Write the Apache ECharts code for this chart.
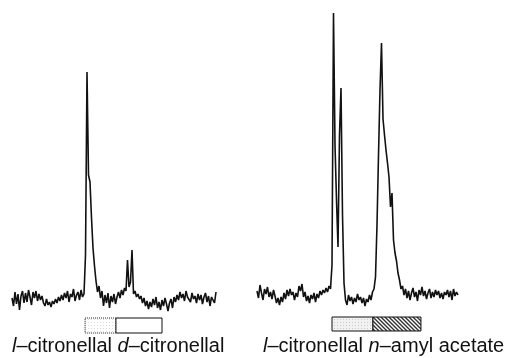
<!DOCTYPE html>
<html>
<head>
<meta charset="utf-8">
<script src="https://cdn.jsdelivr.net/npm/echarts@6/dist/echarts.min.js"></script>
<style>
html, body { margin: 0; padding: 0; background: #fff; }
#chart { width: 513px; height: 358px; }
</style>
</head>
<body>
<div id="chart"></div>
<script>
// antennal responses, one sample every ~1.5 px of the original trace
var leftTrace = [
    2, -6, 8, -4, 6, -10, 4, 9, -3, 7, -2, 10, 3, -5, 8, 2, 9, -1, 6, 0,
    4, -3, -6, 1, -5, -2, -7, -1, -4, 1, -3, 3, -1, 5, 0, 7, 2, 9, -2, 6,
    3, 11, -1, 5, 8, 0, 10, 3, 6, 45, 228, 125, 118, 82, 52, 34, 19, 8, 14, 2,
    9, -6, 5, -3, 7, -8, 4, -2, 6, -4, 3, 8, 2, 10, 5, 12, 9, 40, 13, 18,
    50, 6, 9, 3, 6, 1, 4, -3, 2, -6, -1, -9, -2, -7, 1, -5, 3, -8, -2, -10,
    0, -6, 2, -4, -11, -3, 1, -8, 3, -2, 5, 0, 8, 2, 6, -1, 9, 3, 5, -2,
    7, 1, 4, -3, 6, 0, 5, -4, 3, 7, -2, 4, -6, 3, 1, -3, 8
];
var rightTrace = [
    4, -3, 10, 2, -5, 6, 1, 8, -2, 3, -4, 5, -1, -8, -3, -10, -2, -7, 2, -4,
    5, -1, 6, 0, 3, -5, 2, -2, 9, 4, 11, -2, 3, -6, -1, -8, 0, -4, 2, -7,
    1, -3, 4, 0, 5, 2, 7, 3, 9, 6, 30, 282, 150, 95, 48, 160, 207, 80, 12, -5,
    -10, 0, -6, -2, -9, -3, -7, 1, -5, -2, -8, -3, -11, -4, -7, 0, -5, 3, 6, 18,
    70, 140, 205, 252, 176, 160, 145, 132, 118, 88, 102, 55, 42, 34, 22, 15, 6, 9, 0, 6,
    -3, 4, -5, 2, 7, -2, 3, -6, 5, 0, 8, -1, 4, -4, 2, 6, -3, 3, -2, 5,
    0, 4, -3, 2, -4, 3, 0, 5, -2, 4, -5, 6, -1, 3, 0
];

// stimulus windows (sample units): name, start, end
var leftStimuli = [['l-citronellal', 48.7, 69.3], ['d-citronellal', 69.3, 100]];
var rightStimuli = [['l-citronellal', 50, 77.3], ['n-amyl acetate', 77.3, 109.3]];

// captions: italic prefix, rest
var leftCaption = [['l', 'citronellal'], ['d', 'citronellal']];
var rightCaption = [['l', 'citronellal'], ['n', 'amyl acetate']];

function stipple(bg, dot) {
    var c = document.createElement('canvas');
    c.width = 3; c.height = 3;
    var g = c.getContext('2d');
    g.fillStyle = bg; g.fillRect(0, 0, 3, 3);
    g.fillStyle = dot; g.fillRect(1, 1, 1, 1);
    return c;
}
function hatch() {
    var c = document.createElement('canvas');
    c.width = 4; c.height = 4;
    var g = c.getContext('2d');
    g.fillStyle = '#fff'; g.fillRect(0, 0, 4, 4);
    g.strokeStyle = '#333'; g.lineWidth = 1.4;
    g.beginPath();
    g.moveTo(-1, -1); g.lineTo(5, 5);
    g.moveTo(-1, 3); g.lineTo(1, 5);
    g.moveTo(3, -1); g.lineTo(5, 1);
    g.stroke();
    return c;
}

var fills = {
    left: [
        { color: { image: stipple('#fff', '#d8d8d8'), repeat: 'repeat' }, borderColor: '#222', borderWidth: 1, borderType: 'dotted' },
        { color: '#fff', borderColor: '#111', borderWidth: 1 }
    ],
    right: [
        { color: { image: stipple('#f2f2f2', '#c8c8c8'), repeat: 'repeat' }, borderColor: '#111', borderWidth: 1 },
        { color: { image: hatch(), repeat: 'repeat' }, borderColor: '#111', borderWidth: 1 }
    ]
};

function areas(stimuli, style, y0, y1) {
    return stimuli.map(function (s, k) {
        return [
            { name: s[0], xAxis: s[1], yAxis: y0, itemStyle: style[k] },
            { xAxis: s[2], yAxis: y1 }
        ];
    });
}

function caption(parts) {
    return parts.map(function (p) { return '{i|' + p[0] + '}–' + p[1]; }).join(' ');
}

var chart = echarts.init(document.getElementById('chart'));
var textStyle = {
    fill: '#111',
    font: '20px "Liberation Sans", Arial, sans-serif',
    textVerticalAlign: 'middle',
    rich: { i: { fontStyle: 'italic', fontSize: 20, fontFamily: '"Liberation Sans", Arial, sans-serif' } }
};

chart.setOption({
    animation: false,
    backgroundColor: '#fff',
    grid: [
        { left: 12, top: 0, width: 204, height: 340 },
        { left: 257, top: 0, width: 201, height: 340 }
    ],
    xAxis: [
        { type: 'value', gridIndex: 0, min: 0, max: leftTrace.length - 1, show: false },
        { type: 'value', gridIndex: 1, min: 0, max: rightTrace.length - 1, show: false }
    ],
    yAxis: [
        { type: 'value', gridIndex: 0, min: -40, max: 300, show: false },
        { type: 'value', gridIndex: 1, min: -45, max: 295, show: false }
    ],
    series: [
        {
            type: 'line',
            xAxisIndex: 0,
            yAxisIndex: 0,
            symbol: 'none',
            data: leftTrace.map(function (v, i) { return [i, v]; }),
            lineStyle: { color: '#111', width: 1.6 },
            markArea: { silent: true, label: { show: false }, data: areas(leftStimuli, fills.left, -18, -33) }
        },
        {
            type: 'line',
            xAxisIndex: 1,
            yAxisIndex: 1,
            symbol: 'none',
            data: rightTrace.map(function (v, i) { return [i, v]; }),
            lineStyle: { color: '#111', width: 1.6 },
            markArea: { silent: true, label: { show: false }, data: areas(rightStimuli, fills.right, -22, -36) }
        }
    ],
    graphic: [
        { type: 'text', left: 12, top: 336, style: Object.assign({ text: caption(leftCaption) }, textStyle) },
        { type: 'text', left: 263, top: 336, style: Object.assign({ text: caption(rightCaption) }, textStyle) }
    ]
});
</script>
</body>
</html>
